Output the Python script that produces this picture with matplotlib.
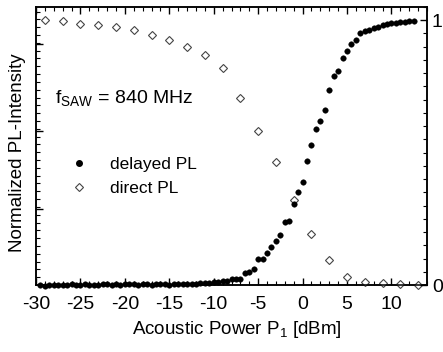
import matplotlib
matplotlib.use("Agg")
import matplotlib.pyplot as plt
from matplotlib.lines import Line2D
from matplotlib.ticker import FixedLocator, MultipleLocator, NullFormatter

plt.rcParams['font.family'] = ['Liberation Sans', 'DejaVu Sans']
plt.rcParams['mathtext.fontset'] = 'custom'
plt.rcParams['mathtext.rm'] = 'Liberation Sans'
plt.rcParams['mathtext.it'] = 'Liberation Sans:italic'

# ---------------- data ----------------
delayed_x = [-29.5, -29.0, -28.5, -28.0, -27.5, -27.0, -26.5, -26.0, -25.5, -25.0,
             -24.5, -24.0, -23.5, -23.0, -22.5, -22.0, -21.5, -21.0, -20.5, -20.0,
             -19.5, -19.0, -18.5, -18.0, -17.5, -17.0, -16.5, -16.0, -15.5, -15.0,
             -14.5, -14.0, -13.5, -13.0, -12.5, -12.0, -11.5, -11.0, -10.5, -10.0,
             -9.5, -9.0, -8.5, -8.0, -7.5, -7.0, -6.5, -6.0, -5.5, -5.0,
             -4.5, -4.0, -3.5, -3.0, -2.5, -2.0, -1.5, -1.0, -0.5, 0.0,
             0.5, 1.0, 1.5, 2.0, 2.5, 3.0, 3.5, 4.0, 4.5, 5.0,
             5.5, 6.0, 6.5, 7.0, 7.5, 8.0, 8.5, 9.0, 9.5, 10.0,
             10.5, 11.0, 11.5, 12.0, 12.5]
delayed_y = [0.000, -0.002, 0.000, 0.000, 0.001, 0.000, 0.000, 0.002, 0.001, 0.000,
             0.002, 0.001, 0.000, 0.001, 0.002, 0.002, 0.001, 0.002, 0.001, 0.002,
             0.003, 0.002, 0.001, 0.003, 0.002, 0.001, 0.002, 0.003, 0.002, 0.001,
             0.002, 0.003, 0.002, 0.003, 0.004, 0.005, 0.006, 0.007, 0.008, 0.010,
             0.012, 0.014, 0.016, 0.022, 0.023, 0.022, 0.045, 0.049, 0.062, 0.098,
             0.099, 0.120, 0.144, 0.167, 0.190, 0.238, 0.243, 0.305, 0.352, 0.390,
             0.470, 0.527, 0.590, 0.621, 0.662, 0.735, 0.790, 0.810, 0.859, 0.884,
             0.912, 0.927, 0.950, 0.958, 0.965, 0.971, 0.976, 0.982, 0.986, 0.989,
             0.991, 0.993, 0.995, 0.997, 0.998]

direct_x = [-29, -27, -25, -23, -21, -19, -17, -15, -13, -11, -9, -7, -5, -3,
            -1, 1, 3, 5, 7, 9, 11, 13]
direct_y = [1.000, 0.997, 0.987, 0.981, 0.975, 0.962, 0.943, 0.927, 0.899, 0.870,
            0.821, 0.707, 0.583, 0.463, 0.321, 0.192, 0.094, 0.030, 0.011, 0.006,
            0.003, 0.000]

xticks = [-30, -25, -20, -15, -10, -5, 0, 5, 10]
xticklabels = ['-30', '-25', '-20', '-15', '-10', '-5', '0', '5', '10']
right_ticks = [0, 1]
right_labels = ['0', '1']

# ---------------- figure ----------------
W, H = 443, 352
fig = plt.figure(figsize=(W / 100, H / 100), dpi=100)
ax = fig.add_axes([36 / W, 1 - 285 / H, (427 - 36) / W, (285 - 7) / H])

ax.plot(direct_x, direct_y, linestyle='none', marker='D', ms=4.5,
        mfc='white', mec='#444444', mew=0.8, clip_on=False, zorder=3,
        label='direct PL')
ax.plot(delayed_x, delayed_y, linestyle='none', marker='o', ms=4.0,
        mfc='black', mec='black', mew=0.3, clip_on=False, zorder=4,
        label='delayed PL')

ax.set_xlim(-30, 14)
ax.set_ylim(0, 1.05)

for s in ax.spines.values():
    s.set_linewidth(1.1)

ax.set_xticks(xticks)
ax.set_xticklabels(xticklabels)
ax.xaxis.set_minor_locator(MultipleLocator(1))
ax.tick_params(axis='x', which='both', direction='in', top=True, bottom=True,
               labelsize=14, pad=8)
ax.tick_params(axis='x', which='major', length=5, width=1)
ax.tick_params(axis='x', which='minor', length=3, width=0.8)

# left axis: unlabeled ticks
ax.yaxis.set_major_locator(FixedLocator([0.287, 0.581, 0.909]))
ax.yaxis.set_minor_locator(MultipleLocator(0.0295))
ax.yaxis.set_major_formatter(NullFormatter())
ax.tick_params(axis='y', which='both', direction='in', left=True, right=False)
ax.tick_params(axis='y', which='major', length=5, width=1)
ax.tick_params(axis='y', which='minor', length=3, width=0.8)

# right axis
ax2 = ax.twinx()
ax2.set_ylim(ax.get_ylim())
ax2.set_yticks(right_ticks)
ax2.set_yticklabels(right_labels)
ax2.yaxis.set_minor_locator(MultipleLocator(0.05))
ax2.tick_params(axis='y', which='both', direction='in', labelsize=14, pad=3.5)
ax2.tick_params(axis='y', which='major', length=5, width=1)
ax2.tick_params(axis='y', which='minor', length=3, width=0.8)
for s in ax2.spines.values():
    s.set_linewidth(1.1)

ax.set_xlabel(r'Acoustic Power P$_\mathregular{1}$ [dBm]', fontsize=13.5)
ax.xaxis.set_label_coords((237 - 36) / 391, -0.122)
ax.set_ylabel('Normalized PL-Intensity', fontsize=13.5)
ax.yaxis.set_label_coords(-0.0256, 0.475)

fig.text(55 / W, 1 - 103 / H, r'f$_\mathregular{SAW}$ = 840 MHz', fontsize=14,
         ha='left', va='baseline')

handles = [Line2D([], [], linestyle='none', marker='o', ms=4.0, mfc='black', mec='black'),
           Line2D([], [], linestyle='none', marker='D', ms=4.5, mfc='white',
                  mec='#444444', mew=0.8)]
leg = fig.legend(handles, ['delayed PL', 'direct PL'], loc='upper left',
                 bbox_to_anchor=(72 / W, 1 - 157 / H), frameon=False, fontsize=12.5,
                 handlelength=0.8, handletextpad=1.385, labelspacing=0.5,
                 borderpad=0, borderaxespad=0, numpoints=1)

fig.savefig('out.png', dpi=100)
